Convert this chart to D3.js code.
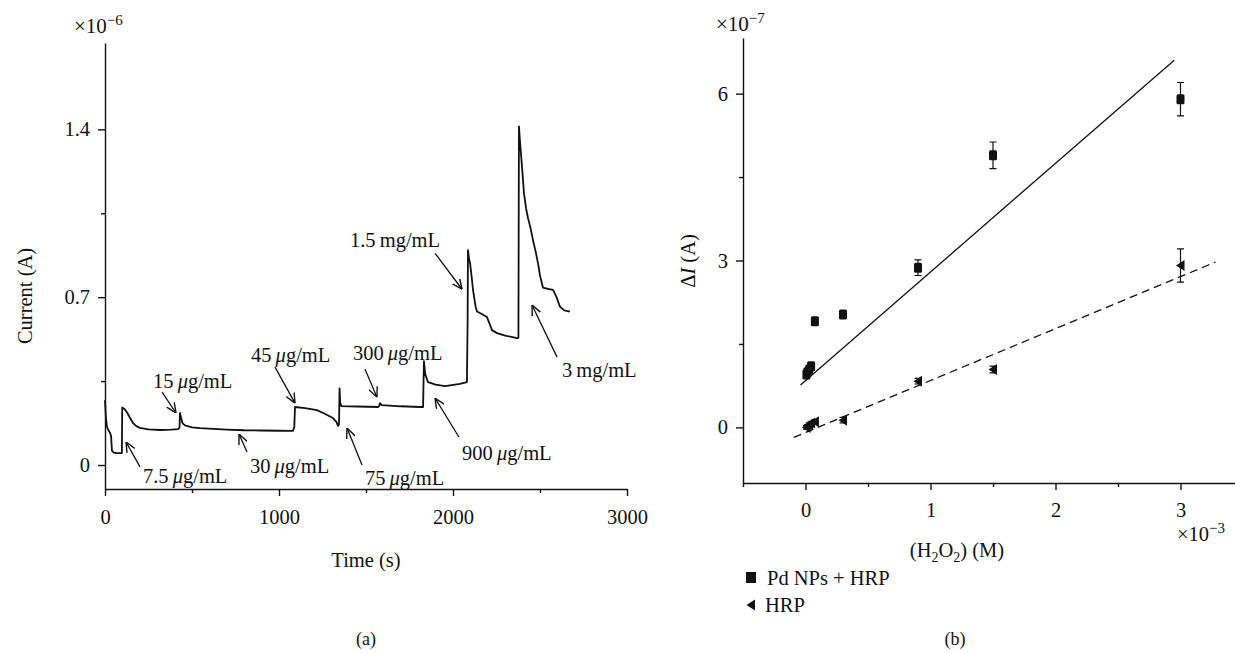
<!DOCTYPE html>
<html>
<head>
<meta charset="utf-8">
<script src="https://cdn.jsdelivr.net/npm/d3@7"></script>
<style>
	body { margin: 0; background: #fff; }
	svg text { font-family: "Liberation Serif", "DejaVu Serif", serif; fill: #111; }
	.axis path, .axis line { stroke: #111; stroke-width: 1.4; }
</style>
</head>
<body>
<div id="chart"></div>
<script>
// ---- panel (a): amperometric trace ----
const timeS = [0, 5, 11, 20, 29, 35, 40, 50, 70, 97, 99, 110, 126, 145, 161, 180, 201, 250, 316, 380,
	420, 428, 431, 436, 445, 460, 500, 546, 700, 800, 900, 1000, 1080, 1088, 1092, 1150, 1218, 1260, 1310, 1330,
	1339, 1345, 1348, 1352, 1358, 1450, 1569, 1575, 1580, 1590, 1700, 1810, 1828, 1833, 1840, 1856, 1900, 1954, 2040, 2080,
	2084, 2086, 2092, 2098, 2108, 2115, 2130, 2138, 2160, 2195, 2210, 2224, 2253, 2300, 2368, 2376, 2379, 2385, 2397, 2408,
	2420, 2431, 2445, 2460, 2475, 2489, 2500, 2517, 2545, 2575, 2595, 2615, 2640, 2672];
const currentA = [0.27, 0.2, 0.16, 0.145, 0.135, 0.12, 0.06, 0.052, 0.05, 0.05, 0.24, 0.235, 0.22, 0.195, 0.175, 0.162, 0.155, 0.149, 0.146, 0.148,
	0.15, 0.155, 0.217, 0.2, 0.175, 0.165, 0.157, 0.154, 0.148, 0.145, 0.144, 0.143, 0.142, 0.16, 0.242, 0.237, 0.229, 0.215, 0.196, 0.18,
	0.163, 0.17, 0.32, 0.26, 0.246, 0.244, 0.242, 0.245, 0.258, 0.25, 0.245, 0.242, 0.242, 0.433, 0.38, 0.346, 0.335, 0.329, 0.338, 0.346,
	0.6, 0.896, 0.86, 0.842, 0.78, 0.73, 0.66, 0.64, 0.632, 0.617, 0.59, 0.5625, 0.55, 0.54, 0.529, 0.53, 1.4125, 1.35, 1.24, 1.133,
	1.07, 1.03, 0.99, 0.9375, 0.89, 0.84, 0.79, 0.74, 0.735, 0.73, 0.7, 0.66, 0.645, 0.64];
const aXTicks = [0, 1000, 2000, 3000];
const aXMinor = [500, 1500, 2500];
const aYTicks = [0, 0.7, 1.4];
const aYMinor = [0.35, 1.05];

// annotations: label, unit, text anchor (t, I), arrow start, arrow tip
const annLabels = ["7.5", "15", "30", "45", "75", "300", "900", "1.5", "3"];
const annUnits  = ["µ", "µ", "µ", "µ", "µ", "µ", "µ", "m", "m"];
const annText   = [[218, -0.075], [276, 0.32], [833, -0.033], [839, 0.43], [1494, -0.083], [1425, 0.4375], [2052, 0.021], [1408, 0.908], [2626, 0.367]];
const annFrom   = [[201, -0.008], [328, 0.304], [816, 0.054], [977, 0.408], [1477, 0.0], [1494, 0.4], [2034, 0.117], [1897, 0.883], [2598, 0.45]];
const annTo     = [[121, 0.096], [408, 0.217], [770, 0.129], [1092, 0.258], [1391, 0.154], [1563, 0.283], [1897, 0.279], [2052, 0.733], [2454, 0.667]];

// ---- panel (b): calibration ----
const concH2O2 = [0.0075, 0.015, 0.03, 0.045, 0.075, 0.3, 0.9, 1.5, 3.0];
const pdHrpDI  = [0.95, 0.99, 1.04, 1.1, 1.91, 2.03, 2.87, 4.89, 5.9];
const pdHrpErr = [0.04, 0.04, 0.04, 0.05, 0.06, 0.06, 0.14, 0.24, 0.3];
const hrpDI    = [0.0, 0.02, 0.05, 0.08, 0.1, 0.13, 0.83, 1.04, 2.91];
const hrpErr   = [0.03, 0.03, 0.03, 0.03, 0.04, 0.05, 0.05, 0.06, 0.3];
const fitSlope     = [1.953, 0.934];
const fitIntercept = [0.84, -0.092];
const fitRange     = [[-0.04, 2.95], [-0.094, 3.28]];
const bXTicks = [0, 1, 2, 3];
const bXMinor = [-0.5, 0.5, 1.5, 2.5];
const bYTicks = [0, 3, 6];
const bYMinor = [1.5, 4.5];

function main() {
	const FS = 20.5;
	const svg = d3.select("#chart").append("svg")
		.attr("width", 1235).attr("height", 653)
		.style("background", "#fff");

	// open arrowhead
	svg.append("defs").append("marker")
		.attr("id", "arr").attr("viewBox", "0 0 10 10")
		.attr("refX", 10).attr("refY", 5)
		.attr("markerWidth", 10).attr("markerHeight", 10)
		.attr("markerUnits", "userSpaceOnUse")
		.attr("orient", "auto")
		.append("path").attr("d", "M0,0.5 L10,5 L0,9.5")
		.attr("fill", "none").attr("stroke", "#111").attr("stroke-width", 1.4);

	// ================= panel (a) =================
	const xa = d3.scaleLinear().domain([0, 3000]).range([105, 627]);
	const ya = d3.scaleLinear().domain([-0.1, 1.76]).range([489, 43]);

	const ga = svg.append("g");
	ga.append("g").attr("class", "axis")
		.attr("transform", "translate(0,489)")
		.call(d3.axisBottom(xa).tickValues(aXTicks).tickSize(7).tickSizeOuter(0).tickFormat(d3.format("d")))
		.call(g => g.selectAll("text").attr("font-size", FS).attr("dy", "1.2em"));
	ga.append("g").attr("class", "axis")
		.attr("transform", "translate(0,489)")
		.call(d3.axisBottom(xa).tickValues(aXMinor).tickSize(4).tickSizeOuter(0).tickFormat(""))
		.select(".domain").remove();
	ga.append("g").attr("class", "axis")
		.attr("transform", "translate(105,0)")
		.call(d3.axisLeft(ya).tickValues(aYTicks).tickSize(7).tickSizeOuter(0).tickFormat(d => d === 0 ? "0" : d3.format(".1f")(d)))
		.call(g => g.selectAll("text").attr("font-size", FS).attr("x", -15));
	ga.append("g").attr("class", "axis")
		.attr("transform", "translate(105,0)")
		.call(d3.axisLeft(ya).tickValues(aYMinor).tickSize(4).tickSizeOuter(0).tickFormat(""))
		.select(".domain").remove();

	const line = d3.line().x((d, i) => xa(timeS[i])).y(d => ya(d));
	ga.append("path").datum(currentA)
		.attr("d", line)
		.attr("fill", "none").attr("stroke", "#111").attr("stroke-width", 1.8)
		.attr("stroke-linejoin", "round");

	// annotations
	annLabels.forEach((lab, i) => {
		ga.append("line")
			.attr("x1", xa(annFrom[i][0])).attr("y1", ya(annFrom[i][1]))
			.attr("x2", xa(annTo[i][0])).attr("y2", ya(annTo[i][1]))
			.attr("stroke", "#111").attr("stroke-width", 1.3)
			.attr("marker-end", "url(#arr)");
		const t = ga.append("text")
			.attr("x", xa(annText[i][0])).attr("y", ya(annText[i][1]))
			.attr("font-size", FS);
		t.append("tspan").text(lab + "\u2009");
		if (annUnits[i] === "µ") {
			t.append("tspan").attr("font-style", "italic").text("\u03bc");
			t.append("tspan").text("g/mL");
		} else {
			t.append("tspan").text("mg/mL");
		}
	});

	// exponent, labels
	const ea = ga.append("text").attr("x", 74).attr("y", 33).attr("font-size", 21);
	ea.append("tspan").text("\u00d710");
	ea.append("tspan").attr("dy", -8).attr("font-size", 15).text("\u22126");
	ga.append("text").attr("transform", "translate(32,296) rotate(-90)")
		.attr("text-anchor", "middle").attr("font-size", FS).text("Current (A)");
	ga.append("text").attr("x", 366).attr("y", 567)
		.attr("text-anchor", "middle").attr("font-size", FS).text("Time (s)");
	ga.append("text").attr("x", 366).attr("y", 645)
		.attr("text-anchor", "middle").attr("font-size", 18).text("(a)");

	// ================= panel (b) =================
	const xb = d3.scaleLinear().domain([-0.5, 3.5]).range([743, 1243]);
	const yb = d3.scaleLinear().domain([-1, 7]).range([483, 38]);

	const gb = svg.append("g");
	gb.append("g").attr("class", "axis")
		.attr("transform", "translate(0,483)")
		.call(d3.axisBottom(xb).tickValues(bXTicks).tickSize(7).tickSizeOuter(0).tickFormat(d3.format("d")))
		.call(g => g.selectAll("text").attr("font-size", FS).attr("dy", "1.15em"));
	gb.append("g").attr("class", "axis")
		.attr("transform", "translate(0,483)")
		.call(d3.axisBottom(xb).tickValues(bXMinor).tickSize(4).tickSizeOuter(0).tickFormat(""))
		.select(".domain").remove();
	gb.append("g").attr("class", "axis")
		.attr("transform", "translate(743,0)")
		.call(d3.axisLeft(yb).tickValues(bYTicks).tickSize(7).tickSizeOuter(0).tickFormat(d3.format("d")))
		.call(g => g.selectAll("text").attr("font-size", FS).attr("x", -15));
	gb.append("g").attr("class", "axis")
		.attr("transform", "translate(743,0)")
		.call(d3.axisLeft(yb).tickValues(bYMinor).tickSize(4).tickSizeOuter(0).tickFormat(""))
		.select(".domain").remove();
	svg.selectAll(".axis text").style("fill", "#111");

	// fit lines
	fitSlope.forEach((m, k) => {
		const xs = fitRange[k];
		gb.append("line")
			.attr("x1", xb(xs[0])).attr("y1", yb(fitIntercept[k] + m * xs[0]))
			.attr("x2", xb(xs[1])).attr("y2", yb(fitIntercept[k] + m * xs[1]))
			.attr("stroke", "#111").attr("stroke-width", 1.3)
			.attr("stroke-dasharray", k === 1 ? "8,5" : null);
	});

	// error bars
	function errorBars(vals, errs) {
		concH2O2.forEach((c, i) => {
			const x = xb(c), y0 = yb(vals[i] - errs[i]), y1 = yb(vals[i] + errs[i]);
			gb.append("path")
				.attr("d", `M${x},${y0}V${y1}M${x - 3.5},${y0}H${x + 3.5}M${x - 3.5},${y1}H${x + 3.5}`)
				.attr("stroke", "#111").attr("stroke-width", 1.2).attr("fill", "none");
		});
	}
	errorBars(pdHrpDI, pdHrpErr);
	errorBars(hrpDI, hrpErr);

	// markers
	gb.selectAll(".sq").data(pdHrpDI).enter().append("rect")
		.attr("class", "sq")
		.attr("x", (d, i) => xb(concH2O2[i]) - 4).attr("y", d => yb(d) - 5)
		.attr("width", 8).attr("height", 10).attr("rx", 1.5)
		.attr("fill", "#111");
	const tri = "M-4.5,0L4,-5.5L4,5.5Z";
	gb.selectAll(".tri").data(hrpDI).enter().append("path")
		.attr("class", "tri")
		.attr("transform", (d, i) => `translate(${xb(concH2O2[i])},${yb(d)})`)
		.attr("d", tri).attr("fill", "#111");

	// exponents and labels
	const eb = gb.append("text").attr("x", 716).attr("y", 31).attr("font-size", 21);
	eb.append("tspan").text("\u00d710");
	eb.append("tspan").attr("dy", -8).attr("font-size", 15).text("\u22127");
	const ex = gb.append("text").attr("x", 1177).attr("y", 541).attr("font-size", FS);
	ex.append("tspan").text("\u00d710");
	ex.append("tspan").attr("dy", -8).attr("font-size", 15).text("\u22123");

	const yl = gb.append("text").attr("transform", "translate(695,261) rotate(-90)")
		.attr("text-anchor", "middle").attr("font-size", FS);
	yl.append("tspan").text("\u0394");
	yl.append("tspan").attr("font-style", "italic").text("I");
	yl.append("tspan").text(" (A)");

	const xl = gb.append("text").attr("x", 957).attr("y", 557)
		.attr("text-anchor", "middle").attr("font-size", FS);
	xl.append("tspan").text("(H");
	xl.append("tspan").attr("dy", 5).attr("font-size", 14).text("2");
	xl.append("tspan").attr("dy", -5).text("O");
	xl.append("tspan").attr("dy", 5).attr("font-size", 14).text("2");
	xl.append("tspan").attr("dy", -5).text(") (M)");

	// legend
	gb.append("rect").attr("x", 746).attr("y", 572).attr("width", 10).attr("height", 11).attr("fill", "#111");
	gb.append("text").attr("x", 767).attr("y", 585).attr("font-size", FS).text("Pd NPs + HRP");
	gb.append("path").attr("transform", "translate(751,605)").attr("d", tri).attr("fill", "#111");
	gb.append("text").attr("x", 765).attr("y", 612).attr("font-size", FS).text("HRP");

	gb.append("text").attr("x", 955).attr("y", 645)
		.attr("text-anchor", "middle").attr("font-size", 18).text("(b)");
}

function whenDocumentLoaded(action) {
	if (document.readyState === "loading") {
		document.addEventListener("DOMContentLoaded", action);
	} else {
		action();
	}
}

whenDocumentLoaded(() => {
	main();
});
</script>
</body>
</html>
